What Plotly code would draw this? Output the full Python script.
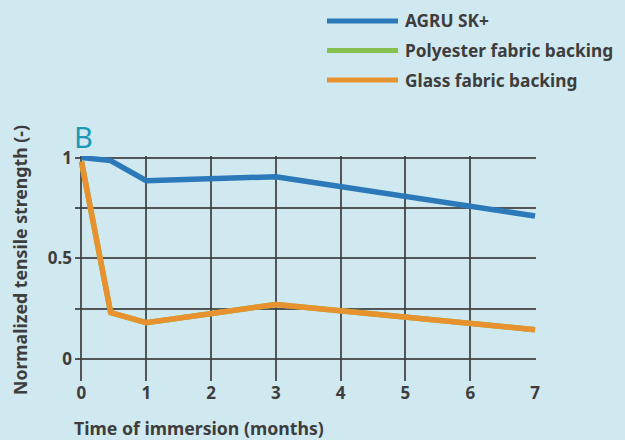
import plotly.graph_objects as go

# ---- data ----
series_names = ["AGRU SK+", "Polyester fabric backing", "Glass fabric backing"]
agru_x = [0, 0.45, 1, 3, 7]
agru_y = [1.0, 0.985, 0.885, 0.905, 0.71]
poly_x = [0, 0.45, 1, 3, 7]
poly_y = [0.98, 0.23, 0.18, 0.27, 0.145]
glass_x = [0, 0.45, 1, 3, 7]
glass_y = [0.98, 0.23, 0.18, 0.27, 0.145]
x_ticks = [0, 1, 2, 3, 4, 5, 6, 7]
y_ticks = [0, 0.25, 0.5, 0.75, 1]
y_ticktext = ["0", "", "0.5", "", "1"]

colors = ["#2b79b9", "#86c04f", "#e8912f"]
BG = "#d0e8ef"
TXT = "#3d3d3d"
FONT = "Noto Sans"

W, H = 625, 440
ML, MR, MT, MB = 75, 89, 156, 59
PW, PH = W - ML - MR, H - MT - MB


def px(xp):
    return (xp - ML) / PW


def py(yp):
    return (H - MB - yp) / PH


fig = go.Figure()
for name, xs, ys, c in [
    (series_names[1], poly_x, poly_y, colors[1]),
    (series_names[0], agru_x, agru_y, colors[0]),
    (series_names[2], glass_x, glass_y, colors[2]),
]:
    fig.add_trace(go.Scatter(x=xs, y=ys, mode="lines", name=name,
                             line=dict(color=c, width=5.5), showlegend=False,
                             hoverinfo="skip"))

shapes = []
annotations = []
for i, (name, c) in enumerate(zip(series_names, colors)):
    yc = 21 + i * 29.5
    shapes.append(dict(type="line", xref="paper", yref="paper",
                       x0=px(327), x1=px(398), y0=py(yc), y1=py(yc),
                       line=dict(color=c, width=5)))
    annotations.append(dict(xref="paper", yref="paper", x=px(403), y=py(yc),
                            xanchor="left", yanchor="middle", showarrow=False,
                            text="<b>%s</b>" % name,
                            font=dict(family=FONT, size=17.3, color=TXT)))

annotations.append(dict(xref="paper", yref="paper", x=px(72), y=py(137),
                        xanchor="left", yanchor="middle", showarrow=False,
                        text="B", font=dict(family=FONT, size=29, color="#1a9ab6")))
annotations.append(dict(xref="paper", yref="paper", x=px(72), y=py(428),
                        xanchor="left", yanchor="middle", showarrow=False,
                        text="<b>Time of immersion (months)</b>",
                        font=dict(family=FONT, size=17.7, color=TXT)))
annotations.append(dict(xref="paper", yref="paper", x=px(20), y=py(260),
                        xanchor="center", yanchor="middle", showarrow=False,
                        textangle=-90,
                        text="<b>Normalized tensile strength (-)</b>",
                        font=dict(family=FONT, size=17.7, color=TXT)))

grid = "rgba(60,60,60,0.85)"
tickfont = dict(family=FONT, size=17, color=TXT, weight="bold")
fig.update_layout(
    width=W, height=H,
    margin=dict(l=ML, r=MR, t=MT, b=MB),
    paper_bgcolor=BG, plot_bgcolor=BG,
    shapes=shapes, annotations=annotations,
    xaxis=dict(range=[-0.1, 7.015], tickvals=x_ticks, showgrid=True,
               gridcolor=grid, gridwidth=1.5, zeroline=False, showline=False,
               ticks="", tickfont=tickfont, ticklabelstandoff=0),
    yaxis=dict(range=[-0.11, 1.008], tickvals=y_ticks, ticktext=y_ticktext,
               showgrid=True, gridcolor=grid, gridwidth=1.5, zeroline=False,
               showline=False, ticks="", tickfont=tickfont,
               ticklabelstandoff=2),
)

fig.write_html("out.html", config={"displayModeBar": False},
               post_script="document.body.style.margin='0';"
                           "document.body.style.background='%s';" % BG)
